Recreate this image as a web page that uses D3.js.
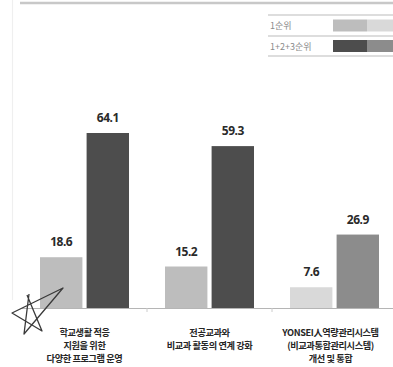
<!DOCTYPE html>
<html><head><meta charset="utf-8">
<script src="https://cdn.jsdelivr.net/npm/d3@7"></script>
<style>html,body{margin:0;padding:0;background:#fff;}svg{display:block;}</style>
</head><body>
<svg id="c" width="393" height="367"></svg>
<script>
const categories = ["c1", "c2", "c3"];
const categoryLabels = [
  ["학교생활 적응", "지원을 위한", "다양한 프로그램 운영"],
  ["전공교과와", "비교과 활동의 연계 강화"],
  ["YONSEI人역량관리시스템", "(비교과통합관리시스템)", "개선 및 통합"]
];
const seriesNames = ["1순위", "1+2+3순위"];
const rank1 = [18.6, 15.2, 7.6];
const rank123 = [64.1, 59.3, 26.9];
const rank1Colors = ["#bdbdbd", "#bdbdbd", "#d9d9d9"];
const rank123Colors = ["#4d4d4d", "#4d4d4d", "#8c8c8c"];
const legendSwatches = [["#bdbdbd", "#d9d9d9"], ["#4d4d4d", "#8c8c8c"]];

const svg = d3.select("#c");
const baseY = 308;
const x = d3.scaleBand().domain(categories).range([22, 397]).paddingInner(0).paddingOuter(0);
const sub = d3.scaleBand().domain([0, 1]).range([18, 107]).paddingInner(0.09);
const y = d3.scaleLinear().domain([0, 100]).range([baseY, baseY - 273]);

// frame lines
svg.append("line").attr("x1", 12.5).attr("x2", 12.5).attr("y1", 0).attr("y2", 300)
  .attr("stroke", "#efefef").attr("stroke-width", 1.2);
svg.append("line").attr("x1", 20).attr("x2", 393).attr("y1", 3).attr("y2", 3)
  .attr("stroke", "#c8c8c8").attr("stroke-width", 2.5);

// legend
const lg = svg.append("g");
[15, 36, 56].forEach(ly => lg.append("line").attr("x1", 268).attr("x2", 393)
  .attr("y1", ly).attr("y2", ly).attr("stroke", "#bbb").attr("stroke-width", 1));
seriesNames.forEach((s, i) => {
  const cy = i === 0 ? 25.5 : 46;
  lg.append("text").attr("x", 270).attr("y", cy + 3.5).text(s)
    .attr("font-family", "'Noto Sans CJK KR', sans-serif").attr("font-size", 9)
    .attr("fill", "#8a8a8a");
  legendSwatches[i].forEach((c, j) => {
    lg.append("rect").attr("x", 333 + j * 34).attr("y", cy - 6).attr("width", 34).attr("height", 12).attr("fill", c);
  });
});

// baseline
svg.append("line").attr("x1", 22).attr("x2", 393).attr("y1", baseY + 0.5).attr("y2", baseY + 0.5)
  .attr("stroke", "#b5b5b5").attr("stroke-width", 1.2);
categories.slice(1).forEach(c => {
  svg.append("line").attr("x1", x(c)).attr("x2", x(c)).attr("y1", baseY).attr("y2", baseY + 4)
    .attr("stroke", "#ccc");
});

// bars
const series = [rank1, rank123];
const seriesColors = [rank1Colors, rank123Colors];
categories.forEach((c, ci) => {
  series.forEach((vals, si) => {
    const bx = x(c) + sub(si);
    const bw = sub.bandwidth();
    svg.append("rect").attr("x", bx).attr("y", y(vals[ci])).attr("width", bw)
      .attr("height", baseY - y(vals[ci])).attr("fill", seriesColors[si][ci]);
    svg.append("text").attr("x", bx + bw / 2).attr("y", y(vals[ci]) - 11)
      .attr("text-anchor", "middle").text(vals[ci].toFixed(1))
      .attr("font-family", "'Noto Sans', sans-serif").attr("font-weight", "bold")
      .attr("font-size", 12).attr("letter-spacing", -0.5).attr("fill", "#2a2a2a");
  });
  const cx = x(c) + x.bandwidth() / 2 - (ci === 2 ? 4 : 0);
  categoryLabels[ci].forEach((t, li) => {
    svg.append("text").attr("x", cx).attr("y", 335.5 + li * 13.4).attr("text-anchor", "middle")
      .text(t).attr("font-family", "'Noto Sans CJK KR', sans-serif").attr("font-weight", "bold")
      .attr("font-size", 9.2).attr("letter-spacing", -0.4).attr("fill", "#262626");
  });
});

// hand-drawn star mark
const starPts = [[27, 295], [42, 331], [12, 313], [63, 288], [24, 334], [29, 294]];
svg.append("path").attr("d", d3.line()(starPts)).attr("fill", "none")
  .attr("stroke", "#3a3a3a").attr("stroke-width", 1.3).attr("stroke-linejoin", "round");
</script>
</body></html>
